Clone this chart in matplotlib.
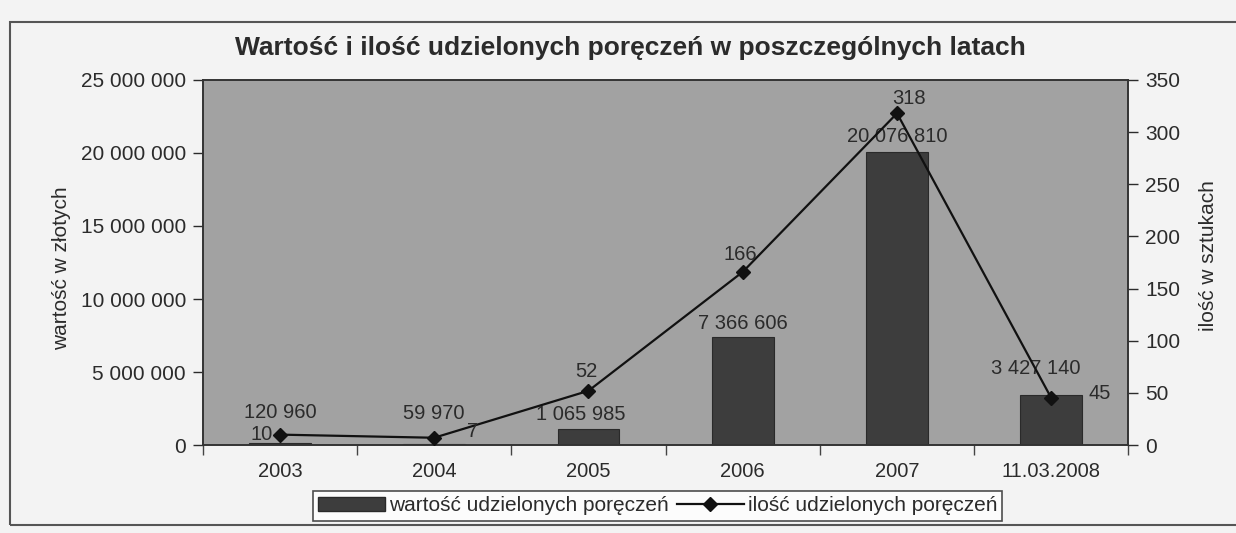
import numpy as np
import matplotlib.pyplot as plt
import matplotlib.patches as mpatches
from matplotlib.lines import Line2D
from matplotlib.ticker import FuncFormatter

plt.rcParams['font.family'] = ['Liberation Sans', 'DejaVu Sans']

categories = ["2003", "2004", "2005", "2006", "2007", "11.03.2008"]
wartosc = [120960, 59970, 1065985, 7366606, 20076810, 3427140]
ilosc = [10, 7, 52, 166, 318, 45]

bar_label_offsets = [(0, 31), (0, 31), (-8, 15), (0, 14), (0, 15), (-16, 27)]
line_label_offsets = [(-18, 0), (38, 6), (-2, 19), (-2, 17), (12, 15), (48, 5)]

text_col = "#2b2b2b"
bg_col = "#f3f3f3"
plot_col = "#a2a2a2"
bar_col = "#3d3d3d"

fig = plt.figure(figsize=(12.36, 5.33), dpi=100, facecolor=bg_col)
ax = fig.add_axes([0.164, 0.165, 0.749, 0.685])
ax.set_facecolor(plot_col)

x = np.arange(len(categories))
ax.bar(x, wartosc, width=0.4, color=bar_col, edgecolor="#2a2a2a", linewidth=0.8, zorder=2)
ax.set_xlim(-0.5, len(categories) - 0.5)
ax.set_ylim(0, 25000000)
ax.set_yticks(np.arange(0, 25000001, 5000000))
ax.yaxis.set_major_formatter(FuncFormatter(lambda v, p: f"{v:,.0f}".replace(",", " ")))
ax.set_xticks(x)
ax.set_xticklabels(categories)
ax.set_xticks(np.arange(-0.5, len(categories), 1), minor=True)
ax.tick_params(axis="x", which="major", length=0, pad=12, labelsize=14.5, colors=text_col)
ax.tick_params(axis="x", which="minor", length=7, width=1, color="#444")
ax.tick_params(axis="y", length=7, width=1, labelsize=15, colors=text_col, pad=5)

for xi, v, (dx, dy) in zip(x, wartosc, bar_label_offsets):
    ax.annotate(f"{v:,.0f}".replace(",", " "), (xi, v), xytext=(dx, dy),
                textcoords="offset pixels", ha="center", va="center",
                fontsize=14.5, color=text_col, zorder=5)

ax2 = ax.twinx()
ax2.plot(x, ilosc, color="#111", linewidth=1.6, marker="D", markersize=7, zorder=4)
ax2.set_ylim(0, 350)
ax2.set_yticks(np.arange(0, 351, 50))
ax2.tick_params(axis="y", length=7, width=1, labelsize=15, colors=text_col, pad=5)

for xi, v, (dx, dy) in zip(x, ilosc, line_label_offsets):
    ax2.annotate(str(v), (xi, v), xytext=(dx, dy), textcoords="offset pixels",
                 ha="center", va="center", fontsize=14.5, color=text_col, zorder=5)

for a in (ax, ax2):
    for s in a.spines.values():
        s.set_color("#333")
        s.set_linewidth(1.2)

fig.patches.append(mpatches.Rectangle((10 / 1236, 8 / 533), 1.2, 503 / 533,
                                      transform=fig.transFigure, fill=False,
                                      edgecolor="#555", linewidth=1.5))

fig.text(0.51, 0.91, "Wartość i ilość udzielonych poręczeń w poszczególnych latach",
         ha="center", va="center", fontsize=19, fontweight="bold", color=text_col)
fig.text(0.050, 0.497, "wartość w złotych", rotation=90, ha="center", va="center",
         fontsize=15, color=text_col)
fig.text(0.978, 0.52, "ilość w sztukach", rotation=90, ha="center", va="center",
         fontsize=15, color=text_col)

handles = [mpatches.Patch(facecolor=bar_col, edgecolor="#2a2a2a"),
           Line2D([], [], color="#111", linewidth=1.6, marker="D", markersize=7)]
leg = fig.legend(handles, ["wartość udzielonych poręczeń", "ilość udzielonych poręczeń"],
                 loc="center", bbox_to_anchor=(0.532, 0.051), ncol=2, fontsize=15,
                 frameon=True, fancybox=False, edgecolor="#222", borderpad=0.25,
                 handlelength=3.2, handletextpad=0.2, columnspacing=0.4,
                 borderaxespad=0)
leg.get_frame().set_facecolor("white")
leg.get_frame().set_linewidth(1.2)
for t in leg.get_texts():
    t.set_color(text_col)

fig.savefig("out.png", dpi=100, facecolor=bg_col)
